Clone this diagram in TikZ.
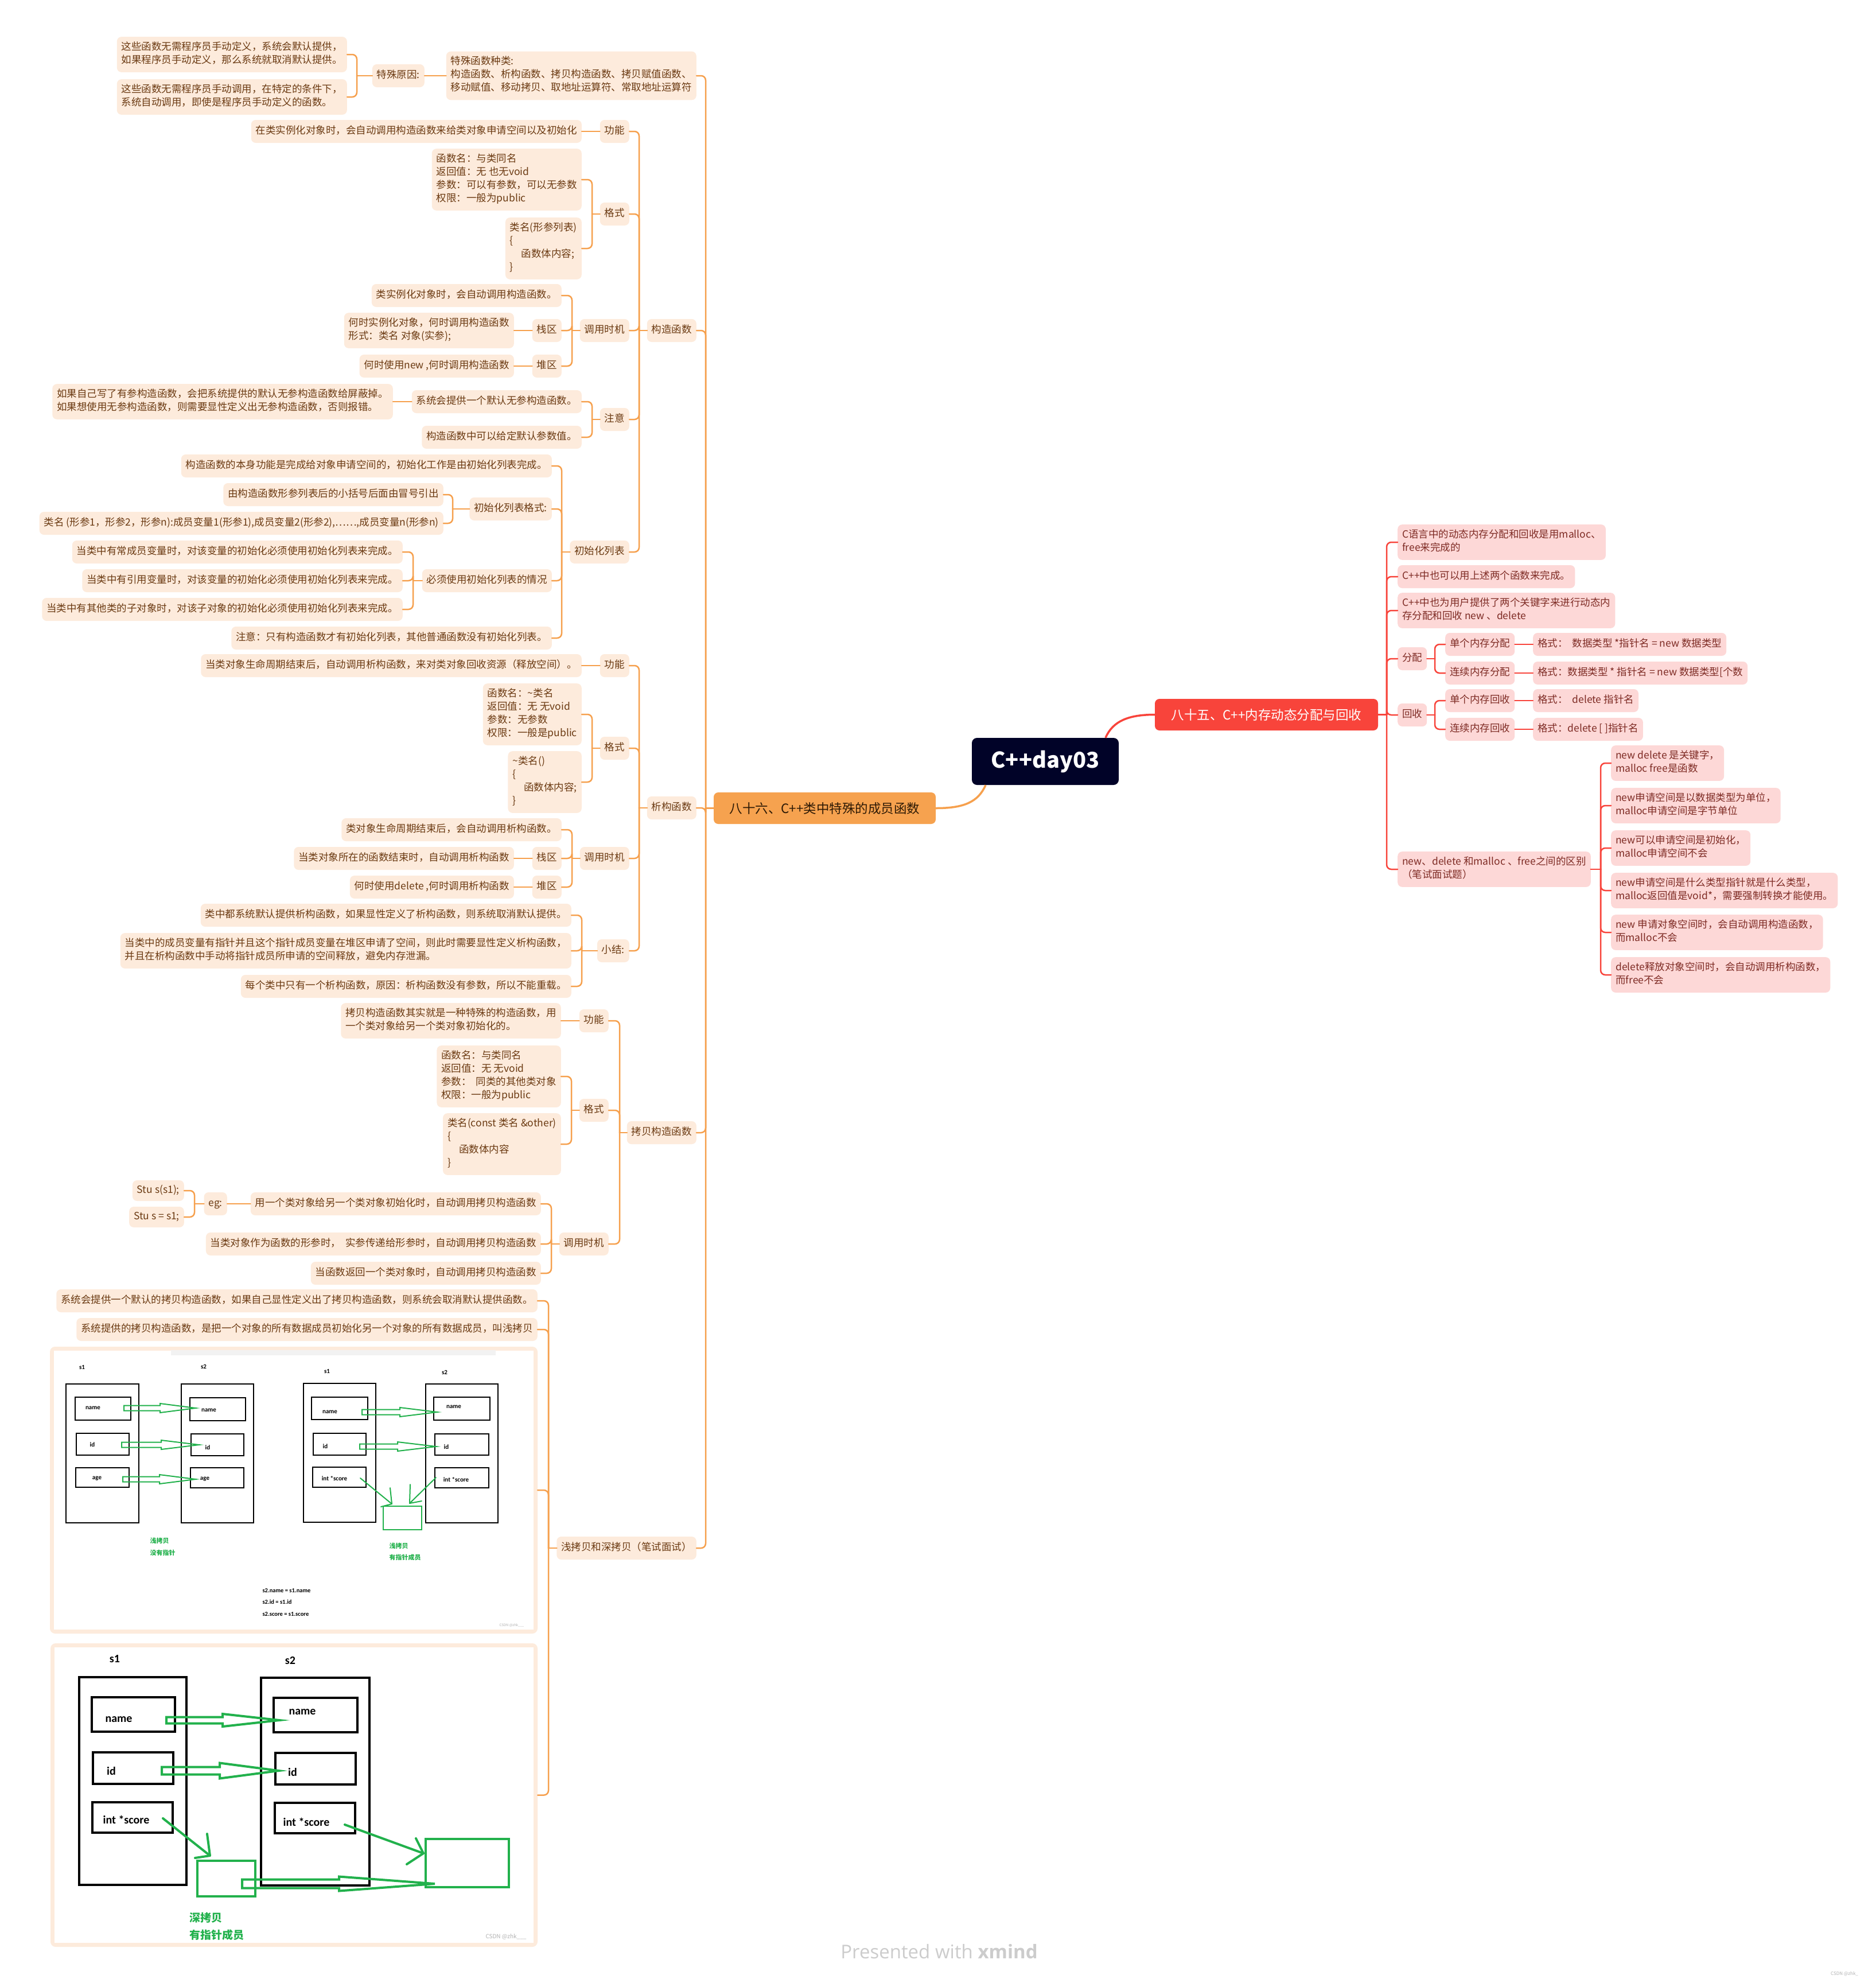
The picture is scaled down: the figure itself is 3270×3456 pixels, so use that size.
\documentclass[tikz,border=0pt]{standalone}
\usepackage{fontspec}
\setmainfont{Noto Sans CJK SC}
\newfontfamily\carl{Carlito}
\newfontfamily\opens{Open Sans}
\usetikzlibrary{calc}
\definecolor{opeach}{HTML}{FDEBDC}
\definecolor{oline}{HTML}{F6A04D}
\definecolor{obrown}{HTML}{6B3A12}
\definecolor{omain}{HTML}{F6A24F}
\definecolor{otext}{HTML}{2E1A05}
\definecolor{rmain}{HTML}{F8443B}
\definecolor{rpink}{HTML}{FDD8D7}
\definecolor{rtext}{HTML}{7E2B24}
\definecolor{navy}{HTML}{010328}
\definecolor{pgreen}{HTML}{22B14C}
\newcommand{\fnt}{\fontsize{17.5}{23}\selectfont}
\tikzset{
  basebox/.style={rounded corners=8pt, inner xsep=8pt, inner ysep=8.5pt, align=left, font=\fnt,
    execute at begin node=\strut, execute at end node=\strut},
  ob/.style={basebox, fill=opeach, text=obrown},
  rb/.style={basebox, fill=rpink, text=rtext},
  ol/.style={draw=oline, line width=2.5pt, rounded corners=8pt, line cap=round},
  rl/.style={draw=rmain, line width=2.5pt, rounded corners=8pt, line cap=round},
  blk/.style={draw=black, line width=#1},
  gline/.style={draw=pgreen, line width=#1, line cap=round, line join=round},
}
\newcommand{\lc}[3]{\draw[ol] (#2.east) -| (#3,0 |- #1.west); \draw[ol] (#3,0 |- #1.west) -- (#1.west);}
\newcommand{\rc}[3]{\draw[rl] (#2.west) -| (#3,0 |- #1.east); \draw[rl] (#3,0 |- #1.east) -- (#1.east);}
\newcommand{\harrow}[7]{\draw[pgreen, line width=#7, line join=miter] (#1,{#4-#5}) -- (#2,{#4-#5}) -- (#2,{#4-#6}) -- (#3,#4) -- (#2,{#4+#6}) -- (#2,{#4+#5}) -- (#1,{#4+#5}) -- cycle;}
\begin{document}
\begin{tikzpicture}[x=1pt,y=-1pt]
\useasboundingbox (0,0) rectangle (3270,3456);
\fill[white] (0,0) rectangle (3270,3456);

% ---------------- main nodes
\node[fill=navy, text=white, rounded corners=9pt, minimum width=256pt, minimum height=82pt, inner sep=0pt, font=\fontsize{38}{44}\selectfont\bfseries] (c) at (1822,1327) {C++day03};
\node[fill=rmain, text=white, rounded corners=8pt, minimum width=389pt, minimum height=55pt, inner sep=0pt, font=\fontsize{22.5}{27}\selectfont] (r) at (2207.5,1245.5) {八十五、C++内存动态分配与回收};
\node[fill=omain, text=otext, rounded corners=8pt, minimum width=387pt, minimum height=55pt, inner sep=0pt, font=\fontsize{22.5}{27}\selectfont] (o) at (1437.5,1408.5) {八十六、C++类中特殊的成员函数};
\draw[rmain, line width=3.5pt] ([xshift=105pt]c.north) .. controls (1940,1256) and (1968,1245.5) .. (r.west);
\draw[oline, line width=3.5pt] ([xshift=-104pt]c.south) .. controls (1705,1398) and (1680,1408.5) .. (o.east);

% ---------------- right (red) branch
\node[rb,anchor=west] (r1) at (2436,945) {C语言中的动态内存分配和回收是用malloc、\\free来完成的};
\node[rb,anchor=west] (r2) at (2436,1005) {C++中也可以用上述两个函数来完成。};
\node[rb,anchor=west] (r3) at (2436,1064) {C++中也为用户提供了两个关键字来进行动态内\\存分配和回收 new 、delete};
\node[rb,anchor=west] (r4) at (2436,1148) {分配};
\node[rb,anchor=west] (r4a) at (2519,1123) {单个内存分配};
\node[rb,anchor=west] (r4a1) at (2672,1123) {格式：\ \ 数据类型 *指针名 = new 数据类型};
\node[rb,anchor=west] (r4b) at (2519,1173) {连续内存分配};
\node[rb,anchor=west] (r4b1) at (2672,1173) {格式：数据类型 * 指针名 = new 数据类型[个数};
\node[rb,anchor=west] (r5) at (2436,1246) {回收};
\node[rb,anchor=west] (r5a) at (2519,1221) {单个内存回收};
\node[rb,anchor=west] (r5a1) at (2672,1221) {格式：\ \ delete 指针名};
\node[rb,anchor=west] (r5b) at (2519,1271) {连续内存回收};
\node[rb,anchor=west] (r5b1) at (2672,1271) {格式：delete [ ]指针名};
\node[rb,anchor=west] (r6) at (2436,1515) {new、delete 和malloc 、free之间的区别\\（笔试面试题）};
\node[rb,anchor=west] (r6a) at (2808,1330) {new delete 是关键字，\\malloc free是函数};
\node[rb,anchor=west] (r6b) at (2808,1404) {new申请空间是以数据类型为单位，\\malloc申请空间是字节单位};
\node[rb,anchor=west] (r6c) at (2808,1478) {new可以申请空间是初始化，\\malloc申请空间不会};
\node[rb,anchor=west] (r6d) at (2808,1552) {new申请空间是什么类型指针就是什么类型，\\malloc返回值是void*，需要强制转换才能使用。};
\node[rb,anchor=west] (r6e) at (2808,1625) {new 申请对象空间时，会自动调用构造函数，\\而malloc不会};
\node[rb,anchor=west] (r6f) at (2808,1699) {delete释放对象空间时，会自动调用析构函数，\\而free不会};
\rc{r}{r1}{2417}\rc{r}{r2}{2417}\rc{r}{r3}{2417}\rc{r}{r4}{2417}\rc{r}{r5}{2417}\rc{r}{r6}{2417}
\rc{r4}{r4a}{2501}\rc{r4}{r4b}{2501}\rc{r5}{r5a}{2501}\rc{r5}{r5b}{2501}
\draw[rl] (r4a.east) -- (r4a1.west);
\draw[rl] (r4b.east) -- (r4b1.west);
\draw[rl] (r5a.east) -- (r5a1.west);
\draw[rl] (r5b.east) -- (r5b1.west);
\rc{r6}{r6a}{2790}\rc{r6}{r6b}{2790}\rc{r6}{r6c}{2790}\rc{r6}{r6d}{2790}\rc{r6}{r6e}{2790}\rc{r6}{r6f}{2790}

% ---------------- left (orange) branch
\node[ob,anchor=east] (k1) at (1214,132) {特殊函数种类:\\构造函数、析构函数、拷贝构造函数、拷贝赋值函数、\\移动赋值、移动拷贝、取地址运算符、常取地址运算符};
\node[ob,anchor=east] (tsy) at (740,132) {特殊原因:};
\node[ob,anchor=east] (t1) at (605,95) {这些函数无需程序员手动定义，系统会默认提供，\\如果程序员手动定义，那么系统就取消默认提供。};
\node[ob,anchor=east] (t2) at (605,169) {这些函数无需程序员手动调用，在特定的条件下，\\系统自动调用，即使是程序员手动定义的函数。};
\draw[ol] (tsy.east) -- (k1.west);
\lc{tsy}{t1}{622}\lc{tsy}{t2}{622}

% 构造函数
\node[ob,anchor=east] (gz) at (1214,576) {构造函数};
\node[ob,anchor=east] (gn1) at (1097,229) {功能};
\node[ob,anchor=east] (gn1c) at (1014,229) {在类实例化对象时，会自动调用构造函数来给类对象申请空间以及初始化};
\node[ob,anchor=east] (gs1) at (1097,373) {格式};
\node[ob,anchor=east] (gs1a) at (1014,313) {函数名：与类同名\\返回值：无 也无void\\参数：可以有参数，可以无参数\\权限：一般为public};
\node[ob,anchor=east] (gs1b) at (1014,433) {类名(形参列表)\\\{\\\hspace*{20pt}函数体内容;\\\}};
\node[ob,anchor=east] (ds1) at (1097,576) {调用时机};
\node[ob,anchor=east] (ds1a) at (979,515) {类实例化对象时，会自动调用构造函数。};
\node[ob,anchor=east] (ds1b) at (979,576) {栈区};
\node[ob,anchor=east] (ds1bc) at (896,576) {何时实例化对象，何时调用构造函数\\形式：类名 对象(实参);};
\node[ob,anchor=east] (ds1c) at (979,638) {堆区};
\node[ob,anchor=east] (ds1cc) at (896,638) {何时使用new ,何时调用构造函数};
\node[ob,anchor=east] (zy1) at (1097,731) {注意};
\node[ob,anchor=east] (zy1a) at (1014,700) {系统会提供一个默认无参构造函数。};
\node[ob,anchor=east] (zy1ac) at (685,700) {如果自己写了有参构造函数，会把系统提供的默认无参构造函数给屏蔽掉。\\如果想使用无参构造函数，则需要显性定义出无参构造函数，否则报错。};
\node[ob,anchor=east] (zy1b) at (1014,762) {构造函数中可以给定默认参数值。};
\node[ob,anchor=east] (cs) at (1097,962) {初始化列表};
\node[ob,anchor=east] (cs1) at (962,812) {构造函数的本身功能是完成给对象申请空间的，初始化工作是由初始化列表完成。};
\node[ob,anchor=east] (cs2) at (962,887) {初始化列表格式:};
\node[ob,anchor=east] (cs2a) at (773,862) {由构造函数形参列表后的小括号后面由冒号引出};
\node[ob,anchor=east] (cs2b) at (773,912) {类名 (形参1，形参2，形参n):成员变量1(形参1),成员变量2(形参2),……,成员变量n(形参n)};
\node[ob,anchor=east] (cs3) at (962,1012) {必须使用初始化列表的情况};
\node[ob,anchor=east] (cs3a) at (702,962) {当类中有常成员变量时，对该变量的初始化必须使用初始化列表来完成。};
\node[ob,anchor=east] (cs3b) at (702,1012) {当类中有引用变量时，对该变量的初始化必须使用初始化列表来完成。};
\node[ob,anchor=east] (cs3c) at (702,1062) {当类中有其他类的子对象时，对该子对象的初始化必须使用初始化列表来完成。};
\node[ob,anchor=east] (cs4) at (962,1112) {注意：只有构造函数才有初始化列表，其他普通函数没有初始化列表。};
\lc{gz}{gn1}{1114}\lc{gz}{gs1}{1114}\lc{gz}{ds1}{1114}\lc{gz}{zy1}{1114}\lc{gz}{cs}{1114}
\draw[ol] (gn1c.east) -- (gn1.west);
\lc{gs1}{gs1a}{1032}\lc{gs1}{gs1b}{1032}
\lc{ds1}{ds1a}{997}\lc{ds1}{ds1b}{997}\lc{ds1}{ds1c}{997}
\draw[ol] (ds1bc.east) -- (ds1b.west);
\draw[ol] (ds1cc.east) -- (ds1c.west);
\lc{zy1}{zy1a}{1032}\lc{zy1}{zy1b}{1032}
\draw[ol] (zy1ac.east) -- (zy1a.west);
\lc{cs}{cs1}{979}\lc{cs}{cs2}{979}\lc{cs}{cs3}{979}\lc{cs}{cs4}{979}
\lc{cs2}{cs2a}{789}\lc{cs2}{cs2b}{789}
\lc{cs3}{cs3a}{720}\lc{cs3}{cs3b}{720}\lc{cs3}{cs3c}{720}

% 析构函数
\node[ob,anchor=east] (xg) at (1214,1408) {析构函数};
\node[ob,anchor=east] (gn2) at (1097,1160) {功能};
\node[ob,anchor=east] (gn2c) at (1014,1160) {当类对象生命周期结束后，自动调用析构函数，来对类对象回收资源（释放空间）。};
\node[ob,anchor=east] (gs2) at (1097,1304) {格式};
\node[ob,anchor=east] (gs2a) at (1014,1245) {函数名：\textasciitilde 类名\\返回值：无 无void\\参数：无参数\\权限：一般是public};
\node[ob,anchor=east] (gs2b) at (1014,1363) {\textasciitilde 类名()\\\{\\\hspace*{20pt}函数体内容;\\\}};
\node[ob,anchor=east] (ds2) at (1097,1496) {调用时机};
\node[ob,anchor=east] (ds2a) at (979,1446) {类对象生命周期结束后，会自动调用析构函数。};
\node[ob,anchor=east] (ds2b) at (979,1496) {栈区};
\node[ob,anchor=east] (ds2bc) at (896,1496) {当类对象所在的函数结束时，自动调用析构函数};
\node[ob,anchor=east] (ds2c) at (979,1546) {堆区};
\node[ob,anchor=east] (ds2cc) at (896,1546) {何时使用delete ,何时调用析构函数};
\node[ob,anchor=east] (xj) at (1097,1657) {小结:};
\node[ob,anchor=east] (xj1) at (996,1595) {类中都系统默认提供析构函数，如果显性定义了析构函数，则系统取消默认提供。};
\node[ob,anchor=east] (xj2) at (996,1657) {当类中的成员变量有指针并且这个指针成员变量在堆区申请了空间，则此时需要显性定义析构函数，\\并且在析构函数中手动将指针成员所申请的空间释放，避免内存泄漏。};
\node[ob,anchor=east] (xj3) at (996,1719) {每个类中只有一个析构函数，原因：析构函数没有参数，所以不能重载。};
\lc{xg}{gn2}{1114}\lc{xg}{gs2}{1114}\lc{xg}{ds2}{1114}\lc{xg}{xj}{1114}
\draw[ol] (gn2c.east) -- (gn2.west);
\lc{gs2}{gs2a}{1032}\lc{gs2}{gs2b}{1032}
\lc{ds2}{ds2a}{997}\lc{ds2}{ds2b}{997}\lc{ds2}{ds2c}{997}
\draw[ol] (ds2bc.east) -- (ds2b.west);
\draw[ol] (ds2cc.east) -- (ds2c.west);
\lc{xj}{xj1}{1014}\lc{xj}{xj2}{1014}\lc{xj}{xj3}{1014}

% 拷贝构造函数
\node[ob,anchor=east] (kb) at (1214,1974) {拷贝构造函数};
\node[ob,anchor=east] (gn3) at (1061,1779) {功能};
\node[ob,anchor=east] (gn3c) at (978,1779) {拷贝构造函数其实就是一种特殊的构造函数，用\\一个类对象给另一个类对象初始化的。};
\node[ob,anchor=east] (gs3) at (1061,1935) {格式};
\node[ob,anchor=east] (gs3a) at (978,1876) {函数名：与类同名\\返回值：无 无void\\参数：\ \ 同类的其他类对象\\权限：一般为public};
\node[ob,anchor=east] (gs3b) at (978,1994) {类名(const 类名 \&other)\\\{\\\hspace*{20pt}函数体内容\\\}};
\node[ob,anchor=east] (ds3) at (1061,2168) {调用时机};
\node[ob,anchor=east] (ds3a) at (943,2098) {用一个类对象给另一个类对象初始化时，自动调用拷贝构造函数};
\node[ob,anchor=east] (eg) at (396,2098) {eg:};
\node[ob,anchor=east,inner ysep=6.5pt] (eg1) at (321,2075) {Stu s(s1);};
\node[ob,anchor=east,inner ysep=6.5pt] (eg2) at (321,2121) {Stu s = s1;};
\node[ob,anchor=east] (ds3b) at (943,2168) {当类对象作为函数的形参时，\ \ 实参传递给形参时，自动调用拷贝构造函数};
\node[ob,anchor=east] (ds3c) at (943,2219) {当函数返回一个类对象时，自动调用拷贝构造函数};
\lc{kb}{gn3}{1080}\lc{kb}{gs3}{1080}\lc{kb}{ds3}{1080}
\draw[ol] (gn3c.east) -- (gn3.west);
\lc{gs3}{gs3a}{996}\lc{gs3}{gs3b}{996}
\lc{ds3}{ds3a}{961}\lc{ds3}{ds3b}{961}\lc{ds3}{ds3c}{961}
\draw[ol] (eg.east) -- (ds3a.west);
\lc{eg}{eg1}{339}\lc{eg}{eg2}{339}

% 浅拷贝和深拷贝
\node[ob,anchor=east] (qs) at (1214,2698) {浅拷贝和深拷贝（笔试面试）};
\node[ob,anchor=east] (qa) at (937,2267) {系统会提供一个默认的拷贝构造函数，如果自己显性定义出了拷贝构造函数，则系统会取消默认提供函数。};
\node[ob,anchor=east] (qb) at (937,2317) {系统提供的拷贝构造函数，是把一个对象的所有数据成员初始化另一个对象的所有数据成员，叫浅拷贝};
\node[fill=opeach, rounded corners=9pt, minimum width=850pt, minimum height=500pt, inner sep=0pt] (img1) at (512,2597) {};
\node[fill=opeach, rounded corners=9pt, minimum width=849pt, minimum height=529pt, inner sep=0pt] (img2) at (512.5,3128.5) {};
\lc{qs}{qa}{956}\lc{qs}{qb}{956}\lc{qs}{img1}{956}\lc{qs}{img2}{956}

% root spine
\lc{o}{k1}{1230}\lc{o}{gz}{1230}\lc{o}{xg}{1230}\lc{o}{kb}{1230}\lc{o}{qs}{1230}

% ---------------- image 1 (shallow copy)
\fill[white] (94,2354) rectangle (930,2840);
\fill[gray!10] (298,2353) rectangle (864,2362);
\begin{scope}[font=\carl\bfseries\fontsize{11}{13}\selectfont]
\node at (143,2383) {s1}; \node at (355,2382) {s2};
\node at (570,2390) {s1}; \node at (775,2392) {s2};
\draw[blk=2.5pt] (115,2412) rectangle (242,2654);
\draw[blk=2.5pt] (316,2412) rectangle (442,2654);
\draw[blk=2.5pt] (131,2435) rectangle (228,2475);
\draw[blk=2.5pt] (133,2498) rectangle (225,2536);
\draw[blk=2.5pt] (132,2558) rectangle (225,2592);
\draw[blk=2.5pt] (331,2436) rectangle (428,2476);
\draw[blk=2.5pt] (333,2499) rectangle (425,2537);
\draw[blk=2.5pt] (332,2558) rectangle (425,2593);
\node at (162,2454) {name}; \node at (364,2458) {name};
\node at (161,2518) {id}; \node at (362,2523) {id};
\node at (169,2577) {age}; \node at (357,2578) {age};
\draw[blk=2.5pt] (529,2411) rectangle (655,2653);
\draw[blk=2.5pt] (742,2412) rectangle (868,2654);
\draw[blk=2.5pt] (543,2435) rectangle (641,2474);
\draw[blk=2.5pt] (546,2498) rectangle (638,2536);
\draw[blk=2.5pt] (545,2557) rectangle (638,2592);
\draw[blk=2.5pt] (756,2435) rectangle (854,2475);
\draw[blk=2.5pt] (758,2499) rectangle (852,2536);
\draw[blk=2.5pt] (758,2558) rectangle (852,2593);
\node at (575,2461) {name}; \node at (791,2452) {name};
\node at (567,2521) {id}; \node at (778,2522) {id};
\node at (583,2577) {int *score}; \node at (795,2579) {int *score};
\end{scope}
\harrow{216}{279}{341}{2454}{4.5}{8}{2pt}
\harrow{212}{281}{347}{2518}{4.5}{8}{2pt}
\harrow{214}{278}{341}{2578}{4.5}{8}{2pt}
\harrow{631}{697}{762}{2461}{4.5}{8}{2pt}
\harrow{627}{693}{760}{2521}{4.5}{8}{2pt}
\draw[gline=2pt] (628,2576) -- (683,2621);
\draw[gline=2pt] (680,2593) -- (683,2621) -- (664,2626);
\draw[gline=2pt] (760,2575) -- (714,2620);
\draw[gline=2pt] (715,2587) -- (714,2620) -- (735,2616);
\draw[pgreen, line width=2.5pt] (668,2625) rectangle (735,2666);
\begin{scope}[text=pgreen, font=\bfseries\fontsize{11}{13}\selectfont]
\node[anchor=west] at (258,2685) {浅拷贝};
\node[anchor=west] at (258,2706) {没有指针};
\node[anchor=west] at (675,2694) {浅拷贝};
\node[anchor=west] at (675,2714) {有指针成员};
\end{scope}
\begin{scope}[font=\carl\bfseries\fontsize{10.5}{12}\selectfont]
\node[anchor=west] at (454,2772) {s2.name = s1.name};
\node[anchor=west] at (454,2792) {s2.id = s1.id};
\node[anchor=west] at (454,2813) {s2.score = s1.score};
\end{scope}
\node[text=gray!60, font=\fontsize{6}{7}\selectfont] at (892,2833) {CSDN @zhk\_\_\_};

% ---------------- image 2 (deep copy)
\fill[white] (95,2871) rectangle (930,3386);
\begin{scope}[font=\carl\bfseries\fontsize{20}{22}\selectfont]
\node at (200,2891) {s1}; \node at (506,2894) {s2};
\draw[blk=4.5pt] (138,2923) rectangle (325,3285);
\draw[blk=4.5pt] (455,2924) rectangle (644,3286);
\draw[blk=4.5pt] (160,2958) rectangle (305,3018);
\draw[blk=4.5pt] (162,3054) rectangle (302,3109);
\draw[blk=4.5pt] (161,3141) rectangle (301,3194);
\draw[blk=4.5pt] (477,2959) rectangle (623,3019);
\draw[blk=4.5pt] (480,3055) rectangle (620,3110);
\draw[blk=4.5pt] (479,3142) rectangle (619,3195);
\node at (207,2997) {name}; \node at (527,2984) {name};
\node at (194,3087) {id}; \node at (510,3089) {id};
\node at (220,3171) {int *score}; \node at (534,3175) {int *score};
\end{scope}
\harrow{290}{388}{487}{2998}{5.5}{11}{4pt}
\harrow{282}{383}{486}{3086}{6.5}{13.5}{4pt}
\draw[gline=4pt] (284,3169) -- (366,3234);
\draw[gline=4pt] (361,3196) -- (366,3234) -- (340,3238);
\draw[gline=4pt] (601,3180) -- (738,3230);
\draw[gline=4pt] (725,3204) -- (738,3230) -- (709,3249);
\draw[pgreen, line width=4pt] (344,3243) rectangle (445,3305);
\draw[pgreen, line width=4pt] (742,3205) rectangle (887,3289);
\harrow{422}{591}{758}{3283}{7.5}{12.5}{4pt}
\begin{scope}[text=pgreen, font=\bfseries\fontsize{19}{22}\selectfont]
\node[anchor=west] at (327,3342) {深拷贝};
\node[anchor=west] at (327,3372) {有指针成员};
\end{scope}
\node[text=gray!60, font=\fontsize{10}{12}\selectfont] at (882,3375) {CSDN @zhk\_\_\_};

% ---------------- footer
\node[text=gray!40, font=\opens\fontsize{33}{38}\selectfont] (pw) at (1637,3401) {Presented with \textbf{xmind}};
\node[text=gray!60, font=\fontsize{8}{9}\selectfont] (wm) at (3215,3440) {CSDN @zhk\_};
\end{tikzpicture}
\end{document}
